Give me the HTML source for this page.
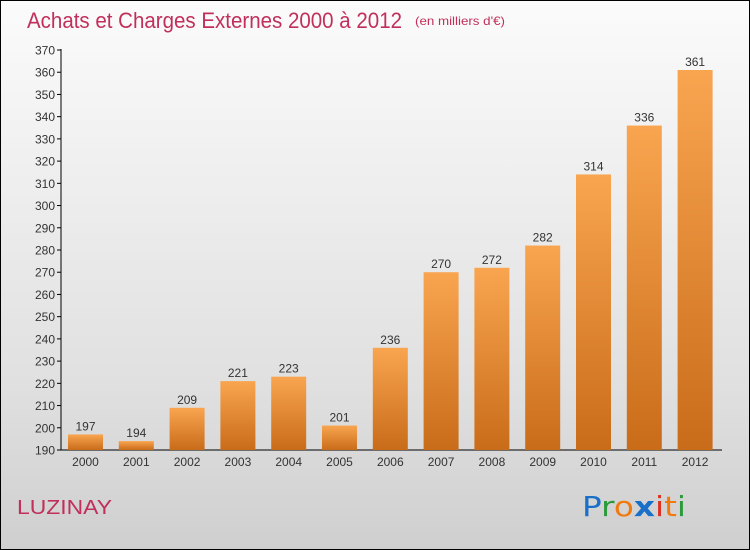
<!DOCTYPE html>
<html><head><meta charset="utf-8"><style>
body{margin:0;width:750px;height:550px;overflow:hidden;font-family:"Liberation Sans",sans-serif}
#wrap{position:absolute;left:0;top:0;width:748px;height:548px;border:1px solid #000;background:linear-gradient(#fbfbfb,#e0e0e0 70%,#cfcfcf)}
</style></head><body>
<div id="wrap">
<svg width="750" height="550" style="position:absolute;left:-1px;top:-1px" id="chart">
<defs>
<linearGradient id="bg" x1="0" y1="0" x2="0" y2="1"><stop offset="0" stop-color="#f9a550"/><stop offset="1" stop-color="#c96c1a"/></linearGradient>
</defs>
<text x="27" y="28" font-size="22" fill="#c0305a" textLength="375" lengthAdjust="spacingAndGlyphs">Achats et Charges Externes 2000 à 2012</text>
<text x="415" y="25" font-size="12" fill="#c0305a" textLength="90" lengthAdjust="spacingAndGlyphs">(en milliers d'€)</text>
<text x="17" y="514" font-size="20" fill="#c0305a" textLength="95" lengthAdjust="spacingAndGlyphs">LUZINAY</text>
<text x="582" y="516" font-size="28" font-family="'DejaVu Sans',sans-serif" textLength="104" lengthAdjust="spacingAndGlyphs"><tspan fill="#1a6fc8">P</tspan><tspan fill="#2a9a3a">r</tspan><tspan fill="#f07a10">o</tspan><tspan fill="#1a6fc8" font-weight="bold">x</tspan><tspan fill="#e03020">i</tspan><tspan fill="#f07a10">t</tspan><tspan fill="#2a9a3a">i</tspan></text>
<g id="axes"></g><g id="bars"></g>
</svg></div>
<script>
const years=["2000","2001","2002","2003","2004","2005","2006","2007","2008","2009","2010","2011","2012"];
const values=[197,194,209,221,223,201,236,270,272,282,314,336,361];
const yTicks=[190,200,210,220,230,240,250,260,270,280,290,300,310,320,330,340,350,360,370];
const NS="http://www.w3.org/2000/svg";
const y=v=>450-(v-190)*400/180;
const x=i=>85.5+i*50.8;
function mk(t,a,p){const e=document.createElementNS(NS,t);for(const k in a)e.setAttribute(k,a[k]);p.appendChild(e);return e;}
const ax=document.getElementById('axes'),bs=document.getElementById('bars');
let l=mk('line',{x1:61,y1:49,x2:61,y2:450,stroke:'#000'},ax);


l=mk('line',{x1:61,y1:450,x2:722,y2:450,stroke:'#000'},ax);


yTicks.forEach(v=>{
 mk('line',{x1:57,x2:61,y1:y(v),y2:y(v),stroke:'#000'},ax);
 const t=mk('text',{x:55,y:y(v)+4.5,'text-anchor':'end','font-size':12,fill:'#333'},ax);t.textContent=v;
 
 
});
values.forEach((v,i)=>{
 const r=mk('rect',{x:x(i)-17.5,y:y(v),width:35,height:450-y(v),fill:'url(#bg)'},bs);
 
 
 const t=mk('text',{x:x(i),y:y(v)-4,'text-anchor':'middle','font-size':12,fill:'#333'},bs);t.textContent=v;
 
 
 const yl=mk('text',{x:x(i),y:466,'text-anchor':'middle','font-size':12,fill:'#333'},bs);yl.textContent=years[i];
 
 
});
</script>
</body></html>
